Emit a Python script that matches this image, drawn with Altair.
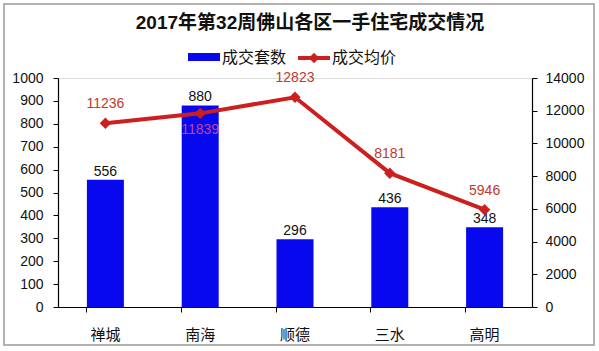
import altair as alt
import pandas as pd

title = "2017年第32周佛山各区一手住宅成交情况"
districts = ["禅城", "南海", "顺德", "三水", "高明"]
units = [556, 880, 296, 436, 348]
prices = [11236, 11839, 12823, 8181, 5946]
below_label = ["南海"]
legend_names = ["成交套数", "成交均价"]

df = pd.DataFrame({"区域": districts, "套数": units, "均价": prices})

FONT = "Liberation Sans, Noto Sans CJK SC, sans-serif"
BLUE = "#0808ee"
RED = "#cc2020"
LABEL_RED = "#c0392b"

x_enc = alt.X("区域:N", sort=districts, title=None,
              scale=alt.Scale(paddingInner=0.6, paddingOuter=0.3),
              axis=alt.Axis(bandPosition=0, labelAngle=0, labelFontSize=15, labelFont=FONT,
                            labelColor="#111", labelPadding=15, tickSize=5, domainColor="#000",
                            tickColor="#000", domainWidth=1.2, ticks=True))

left_axis = alt.Axis(values=list(range(0, 1001, 100)), grid=False, title=None, labelFontSize=14,
                     labelFont=FONT, labelColor="#111", tickSize=5, domainColor="#000",
                     tickColor="#000", labelPadding=10, domainWidth=1.2, format="d")
right_axis = alt.Axis(values=list(range(0, 14001, 2000)), grid=False, title=None, orient="right",
                      labelFontSize=14, labelFont=FONT, labelColor="#111", tickSize=5,
                      domainColor="#000", tickColor="#000", labelPadding=8, domainWidth=1.2,
                      format="d")

y_left = alt.Y("套数:Q", scale=alt.Scale(domain=[0, 1000], nice=False), axis=left_axis)
y_right = alt.Y("均价:Q", scale=alt.Scale(domain=[0, 14000], nice=False), axis=right_axis)

base = alt.Chart(df)
bars = base.mark_bar(color=BLUE, size=37).encode(x=x_enc, y=y_left)
bar_text = base.mark_text(baseline="bottom", dy=-1, fontSize=14, font=FONT, color="#111").encode(
    x=x_enc, y=y_left, text=alt.Text("套数:Q", format="d"))
left = alt.layer(bars, bar_text)

line = base.mark_line(color=RED, strokeWidth=4).encode(x=x_enc, y=y_right)
pts = base.mark_point(shape="diamond", filled=True, size=130, color=RED, opacity=1).encode(
    x=x_enc, y=y_right)
ptext_above = base.transform_filter(
    ~alt.FieldOneOfPredicate(field="区域", oneOf=below_label)
).mark_text(baseline="middle", dy=-19, fontSize=14, font=FONT, color=LABEL_RED).encode(
    x=x_enc, y=y_right, text=alt.Text("均价:Q", format="d"))
ptext_below = base.transform_filter(
    alt.FieldOneOfPredicate(field="区域", oneOf=below_label)
).mark_text(baseline="middle", dy=17, fontSize=14, font=FONT, color="#c2449a").encode(
    x=x_enc, y=y_right, text=alt.Text("均价:Q", format="d"))
right = alt.layer(line, pts, ptext_above, ptext_below)

one = alt.Chart(pd.DataFrame({"k": [0]}))
leg_rect = one.mark_rect(color=BLUE).encode(
    x=alt.value(130), x2=alt.value(162), y=alt.value(-25), y2=alt.value(-17))
leg_t1 = one.mark_text(align="left", baseline="middle", fontSize=16, font=FONT, color="#111").encode(
    x=alt.value(164), y=alt.value(-20), text=alt.value(legend_names[0]))
leg_line = one.mark_rule(color=RED, strokeWidth=4).encode(
    x=alt.value(240), x2=alt.value(272), y=alt.value(-20))
leg_pt = one.mark_point(shape="diamond", filled=True, size=110, color=RED, opacity=1).encode(
    x=alt.value(256), y=alt.value(-20))
leg_t2 = one.mark_text(align="left", baseline="middle", fontSize=16, font=FONT, color="#111").encode(
    x=alt.value(274), y=alt.value(-20), text=alt.value(legend_names[1]))
border = one.mark_rect(fill=None, stroke="#9a9a9a", strokeWidth=1.5).encode(
    x=alt.value(-54), x2=alt.value(536), y=alt.value(-74), y2=alt.value(267))

deco = alt.layer(leg_rect, leg_t1, leg_line, leg_pt, leg_t2, border)

chart = alt.layer(left, right, deco).resolve_scale(y="independent").properties(
    width=474, height=229,
    padding={"left": 58, "top": 78, "right": 67, "bottom": 44},
    autosize=alt.AutoSizeParams(type="none"),
    title=alt.Title(title, fontSize=19, fontWeight="bold", anchor="middle", offset=-30, dx=15,
                    font=FONT, color="#111"),
).configure_view(stroke=None).configure(background="white")

chart.save("out.html", embed_options={"renderer": "svg", "actions": False})
